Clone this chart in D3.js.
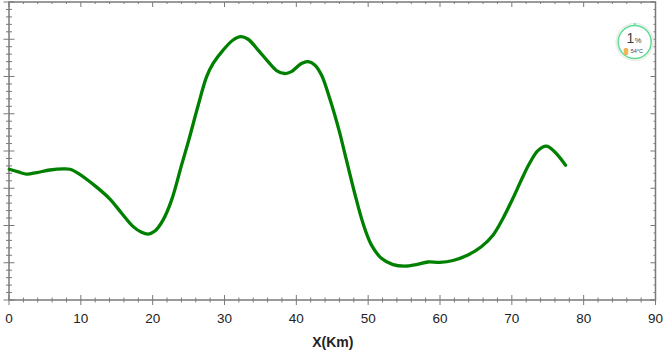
<!DOCTYPE html>
<html>
<head>
<meta charset="utf-8">
<script src="https://cdn.jsdelivr.net/npm/d3@7"></script>
<style>
  html, body { margin: 0; padding: 0; background: #fff; }
  svg { display: block; }
  text { font-family: "Liberation Sans", Arial, sans-serif; }
</style>
</head>
<body>
<div id="chart"></div>
<script>
const xKm = [0.04, 1.29, 2.46, 3.85, 5.7, 7.55, 8.49, 9.64, 12.2, 14.05, 15.68, 17.29, 18.46, 19.38, 20.31, 21.46, 22.63, 24.02, 25.08, 26.33, 27.5, 28.42, 29.81, 31.2, 32.27, 33.29, 34.68, 36.07, 37.24, 38.39, 39.32, 40.71, 41.63, 42.56, 43.5, 44.65, 45.94, 46.97, 48.13, 49.28, 50.45, 51.84, 53.46, 55.08, 56.71, 58.33, 59.95, 61.8, 63.89, 65.75, 67.37, 68.76, 70.15, 71.32, 72.47, 73.63, 74.8, 75.95, 77.48];
const yVal = [3.51, 3.44, 3.38, 3.42, 3.49, 3.52, 3.51, 3.4, 3.03, 2.71, 2.33, 1.97, 1.82, 1.77, 1.85, 2.15, 2.68, 3.62, 4.33, 5.22, 5.99, 6.35, 6.71, 6.98, 7.07, 7, 6.71, 6.4, 6.16, 6.08, 6.13, 6.35, 6.4, 6.31, 6.04, 5.41, 4.56, 3.76, 2.86, 2.06, 1.48, 1.12, 0.95, 0.91, 0.95, 1.02, 1.01, 1.06, 1.21, 1.43, 1.74, 2.19, 2.73, 3.22, 3.67, 4.01, 4.13, 3.98, 3.62];
const xMajor = [0, 10, 20, 30, 40, 50, 60, 70, 80, 90];

const width = 667;
const height = 355;
const axisColor = "#7a7a7a";

const svg = d3.select("#chart")
  .append("svg")
  .attr("width", width)
  .attr("height", height);

const x = d3.scaleLinear().domain([0, 90]).range([9, 655.5]);
const y = d3.scaleLinear().domain([0, 8]).range([300, 2]);

// frame
const frame = svg.append("g").attr("stroke", axisColor).attr("fill", "none");
frame.append("rect")
  .attr("x", x(0)).attr("y", y(8))
  .attr("width", x(90) - x(0)).attr("height", y(0) - y(8))
  .attr("stroke-width", 1.5);

// x ticks, bottom crosses the line, top hangs inside
d3.range(0, 91, 2).forEach(v => {
  const major = v % 10 === 0;
  const px = x(v);
  frame.append("line").attr("x1", px).attr("x2", px)
    .attr("y1", y(0) - (major ? 5 : 2.5)).attr("y2", y(0) + (major ? 5 : 2.5));
  frame.append("line").attr("x1", px).attr("x2", px)
    .attr("y1", y(8)).attr("y2", y(8) + (major ? 5 : 2));
});

// y ticks
d3.range(0, 8.01, 0.2).forEach(v => {
  const major = Math.abs(v - Math.round(v)) < 1e-6;
  const py = y(v);
  frame.append("line").attr("x1", x(0) - (major ? 5.5 : 3)).attr("x2", x(0) + (major ? 5.5 : 3))
    .attr("y1", py).attr("y2", py);
  frame.append("line").attr("x1", x(90) - (major ? 5 : 2)).attr("x2", x(90))
    .attr("y1", py).attr("y2", py);
});

// x labels
svg.selectAll(".xlabel")
  .data(xMajor)
  .join("text")
  .attr("class", "xlabel")
  .attr("x", d => x(d))
  .attr("y", 323)
  .attr("text-anchor", "middle")
  .attr("font-size", 13.5)
  .attr("fill", "#222")
  .text(d => d);

svg.append("text")
  .attr("x", 332.8)
  .attr("y", 346.5)
  .attr("text-anchor", "middle")
  .attr("font-size", 14)
  .attr("font-weight", "bold")
  .attr("fill", "#222")
  .text("X(Km)");

// curve
const line = d3.line()
  .x((d, i) => x(xKm[i]))
  .y(d => y(d))
  .curve(d3.curveCatmullRom);

svg.append("path")
  .datum(yVal)
  .attr("fill", "none")
  .attr("stroke", "#008000")
  .attr("stroke-width", 3.3)
  .attr("stroke-linecap", "round")
  .attr("d", line);

// little gauge widget sitting on top of the screenshot
const gauge = svg.append("g").attr("transform", "translate(634.7,42)");
gauge.append("circle").attr("r", 18.5).attr("fill", "#fff").attr("stroke", "#ececec").attr("stroke-width", 1.5);
gauge.append("circle").attr("r", 16.5).attr("fill", "#fff").attr("stroke", "#5fdc92").attr("stroke-width", 1.5);
gauge.append("line").attr("x1", 0).attr("x2", 0).attr("y1", -19).attr("y2", -16).attr("stroke", "#5fdc92").attr("stroke-width", 1.5);
gauge.append("text").attr("x", -0.5).attr("y", 1).attr("text-anchor", "end").attr("font-size", 14).attr("fill", "#444").text("1");
gauge.append("text").attr("x", 0).attr("y", 1).attr("font-size", 7.5).attr("fill", "#444").text("%");
gauge.append("rect").attr("x", -11).attr("y", 6).attr("width", 4.5).attr("height", 7).attr("rx", 1.5).attr("fill", "#f2b45a");
gauge.append("text").attr("x", -4).attr("y", 10.7).attr("font-size", 5.5).attr("fill", "#444").text("54°C");
</script>
</body>
</html>
